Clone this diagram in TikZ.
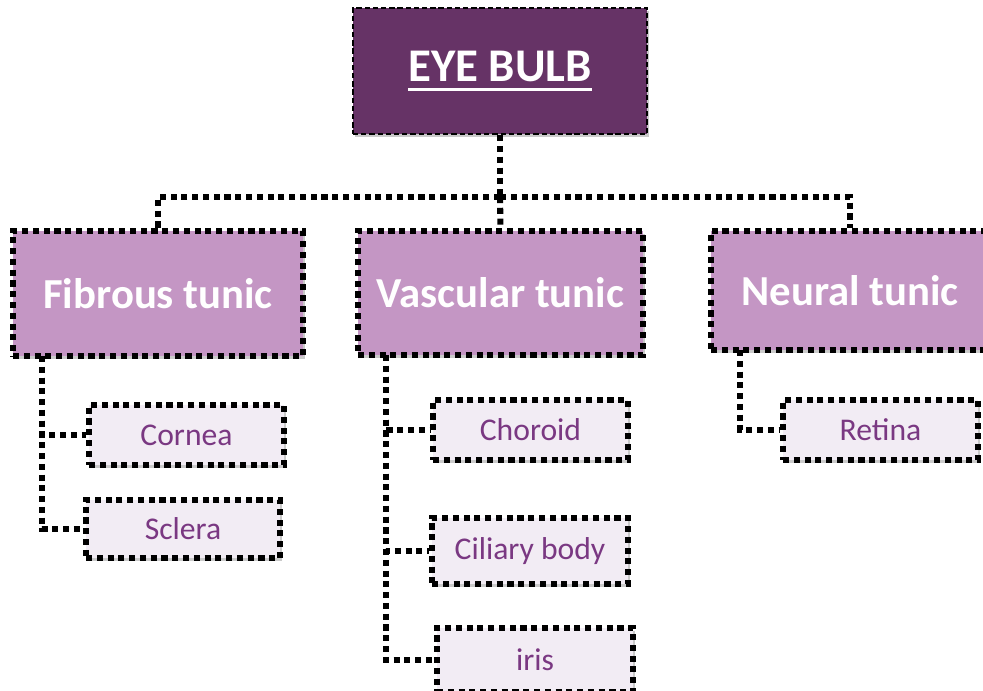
\documentclass[tikz,border=0pt]{standalone}
\usepackage{fontspec}
\setmainfont{Carlito}
\usetikzlibrary{shadows}
\definecolor{bulbfill}{RGB}{102,51,102}
\definecolor{tunicfill}{RGB}{196,150,196}
\definecolor{partfill}{RGB}{242,236,244}
\definecolor{parttext}{RGB}{122,56,130}
\newcommand{\eyeul}[1]{\setbox0\hbox{#1}\rlap{\copy0}\rule[-8.5pt]{\wd0}{2.6pt}}
\tikzset{
  dotline/.style={line width=5.2pt, dash pattern=on 5.2pt off 4pt},
  shade/.style={drop shadow={shadow xshift=1.6pt, shadow yshift=-2.2pt, opacity=0.35, fill=black!60}},
  bulb/.style={shade, fill=bulbfill, draw=black, line width=2pt, dash pattern=on 4.5pt off 2.5pt,
    minimum width=8.82cm, minimum height=3.78cm, inner sep=0pt, text=white,
    font=\fontsize{40}{42}\selectfont\bfseries},
  tunic/.style={shade, fill=tunicfill, draw=black, dotline, minimum width=8.6cm,
    minimum height=3.72cm, inner sep=0pt, text=white, font=\fontsize{36.5}{38}\selectfont\bfseries},
  part/.style={shade, fill=partfill, draw=black, dotline, minimum width=5.85cm,
    minimum height=1.8cm, inner sep=0pt, text=parttext, font=\fontsize{27}{30}\selectfont},
  conn/.style={draw=black, dotline}
}
\begin{document}
\begin{tikzpicture}[x=0.03cm, y=-0.03cm]
  \useasboundingbox (0,0) rectangle (983,690);
  % top level
  \node[bulb] (eye) at (500,71) {\eyeul{EYE BULB}};
  % the three tunics
  \node[tunic, minimum width=8.7cm, minimum height=3.75cm] (fib) at (158,293.5) {Fibrous tunic};
  \node[tunic, minimum width=8.55cm] (vas) at (500.5,293) {Vascular tunic};
  \node[tunic, minimum width=8.34cm, minimum height=3.57cm] (neu) at (850,290.5) {Neural tunic};
  % parts
  \node[part] (cornea) at (186.5,435) {Cornea};
  \node[part, minimum width=5.82cm, minimum height=1.74cm] (sclera) at (183,529) {Sclera};
  \node[part] (choroid) at (530.5,430) {Choroid};
  \node[part, minimum width=5.88cm, minimum height=1.98cm] (ciliary) at (530,551) {Ciliary body};
  \node[part, minimum width=5.88cm, minimum height=1.92cm] (iris) at (535,660) {iris};
  \node[part] (retina) at (880.5,430) {Retina};
  % trunk points
  \coordinate (bus) at (500,197);
  \coordinate (fibtrunk) at (42,356);
  \coordinate (vastrunk) at (386,355);
  \coordinate (neutrunk) at (740,350);
  \begin{scope}
    \draw[conn] (eye.south) -- (bus);
    \draw[conn] (bus) -| (fib.north);
    \draw[conn] (bus) -- (vas.north);
    \draw[conn] (bus) -| (neu.north);
    \draw[conn] (fibtrunk) |- (cornea.west);
    \draw[conn] (fibtrunk) |- (sclera.west);
    \draw[conn] (vastrunk) |- (choroid.west);
    \draw[conn] (vastrunk) |- (ciliary.west);
    \draw[conn] (vastrunk) |- (iris.west);
    \draw[conn] (neutrunk) |- (retina.west);
  \end{scope}
\end{tikzpicture}
\end{document}
